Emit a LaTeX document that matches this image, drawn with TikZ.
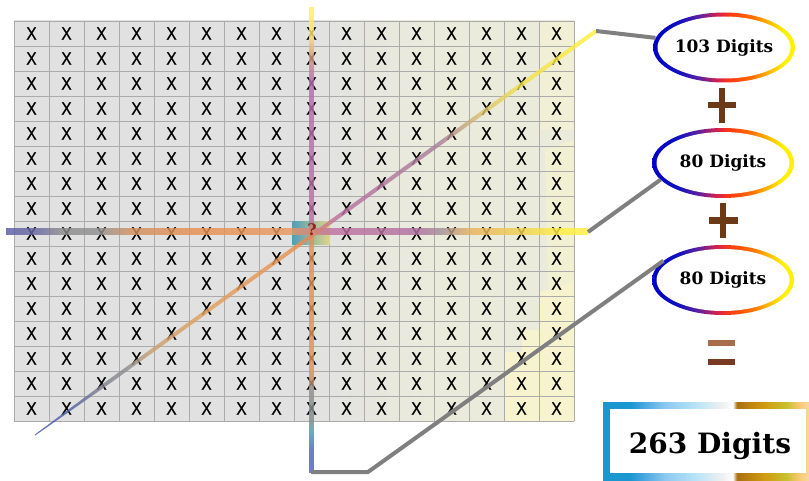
\documentclass[tikz,border=0pt]{standalone}
\usepackage{fontspec}
\usetikzlibrary{shapes.geometric}
\newfontfamily\xfont[FakeBold=0.7]{Liberation Sans}
\newfontfamily\dfont{DejaVu Serif}
\definecolor{gridgrey}{HTML}{ABABAB}
\definecolor{bgG}{HTML}{E1E1E1}
\definecolor{bgB}{HTML}{EBEBDC}
\definecolor{bgY}{HTML}{FAF6CC}
\definecolor{conngrey}{HTML}{7F7F7F}
\definecolor{opbrown}{HTML}{6B3A16}
\definecolor{eqA}{HTML}{A66C4C}
\definecolor{eqB}{HTML}{7A3A22}
\definecolor{qred}{HTML}{8A2A20}
\definecolor{sqA}{HTML}{4E9EB8}
\definecolor{sqB}{HTML}{E49478}
\definecolor{sqC}{HTML}{E2D58A}
% horizontal line colours
\definecolor{hA}{HTML}{5A5AA8}\definecolor{hB}{HTML}{6A6AA0}\definecolor{hC}{HTML}{8A8A8A}
\definecolor{hD}{HTML}{909090}\definecolor{hE}{HTML}{D09060}\definecolor{hF}{HTML}{E89050}
\definecolor{hG}{HTML}{E89860}\definecolor{hH}{HTML}{C070A0}\definecolor{hI}{HTML}{B070A0}
\definecolor{hJ}{HTML}{A09098}\definecolor{hK}{HTML}{E8B060}\definecolor{hL}{HTML}{F0D050}
\definecolor{hM}{HTML}{FFEE40}\definecolor{hN}{HTML}{FFF040}
% vertical line colours
\definecolor{vA}{HTML}{5060C0}\definecolor{vB}{HTML}{40A0A8}\definecolor{vC}{HTML}{808888}
\definecolor{vD}{HTML}{909090}\definecolor{vE}{HTML}{E89050}\definecolor{vF}{HTML}{B870A0}
\definecolor{vG}{HTML}{B070A8}\definecolor{vH}{HTML}{D0A080}\definecolor{vI}{HTML}{F8E860}
\definecolor{vJ}{HTML}{FFF060}
% diagonal colours
\definecolor{dA}{HTML}{4858A8}\definecolor{dB}{HTML}{5060A0}\definecolor{dC}{HTML}{808090}
\definecolor{dD}{HTML}{909090}\definecolor{dE}{HTML}{C8A070}\definecolor{dF}{HTML}{E0A060}
\definecolor{dG}{HTML}{E89050}\definecolor{dH}{HTML}{D08080}\definecolor{dI}{HTML}{B870A0}
\definecolor{dJ}{HTML}{A8809A}\definecolor{dK}{HTML}{D8C070}\definecolor{dL}{HTML}{F0E050}
\definecolor{dM}{HTML}{FFF040}
% ring colours
\definecolor{rA}{HTML}{0000C8}\definecolor{rB}{HTML}{1010C0}\definecolor{rC}{HTML}{6020A0}
\definecolor{rD}{HTML}{D02050}\definecolor{rE}{HTML}{FF3A10}\definecolor{rF}{HTML}{FF7000}
\definecolor{rG}{HTML}{FFC000}\definecolor{rH}{HTML}{FFF000}
% box colours
\definecolor{bA}{HTML}{1A96D0}\definecolor{bB}{HTML}{4AA8E0}\definecolor{bC}{HTML}{8CC8F0}
\definecolor{bD}{HTML}{B8E4F8}\definecolor{bE}{HTML}{F0F0F0}\definecolor{bF}{HTML}{FFFFFF}
\definecolor{bG}{HTML}{A87010}\definecolor{bH}{HTML}{D09A10}\definecolor{bI}{HTML}{C8C030}
\definecolor{bJ}{HTML}{F8C870}\definecolor{bK}{HTML}{F8D8A0}

\pgfdeclarehorizontalshading{bgshade}{100bp}{color(0bp)=(bgG); color(51.4bp)=(bgG); color(62.1bp)=(bgB); color(100bp)=(bgB)}
\pgfdeclarehorizontalshading{hlineshade}{100bp}{color(0bp)=(hA); color(25bp)=(hA); color(27.9bp)=(hB); color(29.65bp)=(hC); color(33bp)=(hD); color(35.5bp)=(hE); color(41.5bp)=(hF); color(49.4bp)=(hG); color(52.85bp)=(hH); color(60.55bp)=(hI); color(62.3bp)=(hJ); color(64.85bp)=(hK); color(69.15bp)=(hL); color(72.6bp)=(hM); color(75bp)=(hN); color(100bp)=(hN)}
\pgfdeclareverticalshading{vlineshade}{100bp}{color(0bp)=(vA); color(27.35bp)=(vA); color(29.3bp)=(vB); color(30.6bp)=(vC); color(33.85bp)=(vD); color(36bp)=(vE); color(50.55bp)=(vE); color(52.15bp)=(vF); color(67.25bp)=(vG); color(69.95bp)=(vH); color(72.1bp)=(vI); color(75bp)=(vJ); color(100bp)=(vJ)}
\pgfdeclarehorizontalshading{dlineshade}{100bp}{color(0bp)=(dA); color(25bp)=(dA); color(28.1bp)=(dB); color(30.8bp)=(dC); color(33.45bp)=(dD); color(35.25bp)=(dE); color(39.7bp)=(dF); color(48.6bp)=(dG); color(50.4bp)=(dH); color(52.2bp)=(dI); color(61.1bp)=(dJ); color(64.65bp)=(dK); color(68.2bp)=(dL); color(75bp)=(dM); color(100bp)=(dM)}
\pgfdeclarehorizontalshading{ringshade}{100bp}{color(0bp)=(rA); color(25bp)=(rA); color(34bp)=(rB); color(41.5bp)=(rC); color(47.5bp)=(rD); color(52.5bp)=(rE); color(60bp)=(rF); color(66.5bp)=(rG); color(71bp)=(rH); color(100bp)=(rH)}
\pgfdeclarehorizontalshading{boxshade}{100bp}{color(0bp)=(bA); color(31.5bp)=(bA); color(35bp)=(bB); color(40bp)=(bC); color(47.5bp)=(bD); color(54bp)=(bE); color(56.5bp)=(bF); color(57.5bp)=(bG); color(64bp)=(bH); color(69.5bp)=(bI); color(72.5bp)=(bJ); color(75bp)=(bK); color(100bp)=(bK)}

\begin{document}
\begin{tikzpicture}[x=1pt,y=-1pt,
  gridline/.style={draw=gridgrey,line width=0.8pt},
  xmark/.style={inner sep=0pt,font=\xfont\fontsize{18}{18}\selectfont,text=black},
  conn/.style={draw=conngrey,line width=4pt},
  sumnode/.style={ellipse,minimum width=142pt,minimum height=70pt,inner sep=0pt,
    font=\dfont\bfseries\fontsize{17}{17}\selectfont,
    path picture={\shade[shading=ringshade] (path picture bounding box.south west) rectangle (path picture bounding box.north east);
      \fill[white] (path picture bounding box.center) ellipse [x radius=66.5pt,y radius=31pt];}},
  opbar/.style={fill=opbrown},
  totalbox/.style={rectangle,minimum width=206pt,minimum height=78pt,inner sep=0pt,
    path picture={\shade[shading=boxshade] (path picture bounding box.south west) rectangle (path picture bounding box.north east);
      \fill[white] ([shift={(7pt,7pt)}]path picture bounding box.south west) rectangle ([shift={(-3pt,-7pt)}]path picture bounding box.north east);}},
  linefade/.style={opacity=0.82}]
\useasboundingbox (0,0) rectangle (809,481);
\fill[white] (0,0) rectangle (809,481);
% background of the grid
\shade[shading=bgshade] (14,21) rectangle (574,421);
\fill[bgY,opacity=0.8] (505,421) -- (505,352) -- (522,352) -- (522,330) -- (540,330) -- (540,292) -- (574,282) -- (574,421) -- cycle;
\fill[bgY,opacity=0.5] (545,150) -- (574,140) -- (574,282) -- (548,288) -- cycle;
\fill[bgY,opacity=0.4] (540,21) rectangle (574,130);
% grid
\foreach \k in {0,...,16} {
  \draw[gridline] ({14+35*\k},21) -- ({14+35*\k},421);
  \draw[gridline] (14,{21+25*\k}) -- (574,{21+25*\k});
}
% X marks (the centre cell holds the question mark instead)
\foreach \c in {0,...,15} {
  \foreach \r in {0,...,15} {
    \ifnum\c=8 \ifnum\r=8 \else
      \node[xmark] (x\c-\r) at ({31.5+35*\c},{33.5+25*\r}) {\scalebox{0.86}[1]{X}};
    \fi\else
      \node[xmark] (x\c-\r) at ({31.5+35*\c},{33.5+25*\r}) {\scalebox{0.86}[1]{X}};
    \fi
  }
}
% centre square
\shade[left color=sqA,middle color=sqB,right color=sqC] (292,222) rectangle (330,245);
% line end points
\coordinate (hL) at (6,232);
\coordinate (hR) at (588,232);
\coordinate (vT) at (311,8);
\coordinate (vB) at (311,472);
\coordinate (dBL) at (35,435);
\coordinate (dTR) at (596,31);
\coordinate (bend) at (368,472);
% coloured lines
\shade[shading=hlineshade,linefade] (6,229) rectangle (588,235);
\shade[shading=vlineshade,linefade] (309,8) rectangle (313.5,472);
\begin{scope}[transform canvas={shift={(35,435)},rotate=35.76}]
  \shade[shading=dlineshade,linefade] (0,-0.5) -- (90,-1.9) -- (691.3,-2.1) -- (691.3,2.1) -- (90,1.9) -- (0,0.5) -- cycle;
\end{scope}
\node[inner sep=0pt,font=\dfont\bfseries\fontsize{16}{16}\selectfont,text=qred] (qmark) at (312,230) {?};
% sum ellipses
\node[sumnode] (e1) at (724,47.5) {103 Digits};
\node[sumnode] (e2) at (723,163) {80 Digits};
\node[sumnode] (e3) at (723,280) {80 Digits};
% grey connectors
\draw[conn] (dTR) -- (e1.172);
\draw[conn] (hR) -- (e2.195);
\draw[conn] (vB) -- (bend) -- (e3.162);
% operators
\fill[opbar] (708,101.7) rectangle (736,108.3);
\fill[opbar] (719,88) rectangle (725,123);
\fill[opbar] (709,217.5) rectangle (738,224);
\fill[opbar] (719.5,203) rectangle (725.5,238);
\fill[eqA] (708,340) rectangle (735,346);
\fill[eqB] (708,359) rectangle (735,365);
% total
\node[totalbox] (total) at (706,441) {};
\node[anchor=base,inner sep=0pt,font=\dfont\bfseries\fontsize{28}{28}\selectfont] (totaltxt) at (710,453) {263 Digits};
\end{tikzpicture}
\end{document}
